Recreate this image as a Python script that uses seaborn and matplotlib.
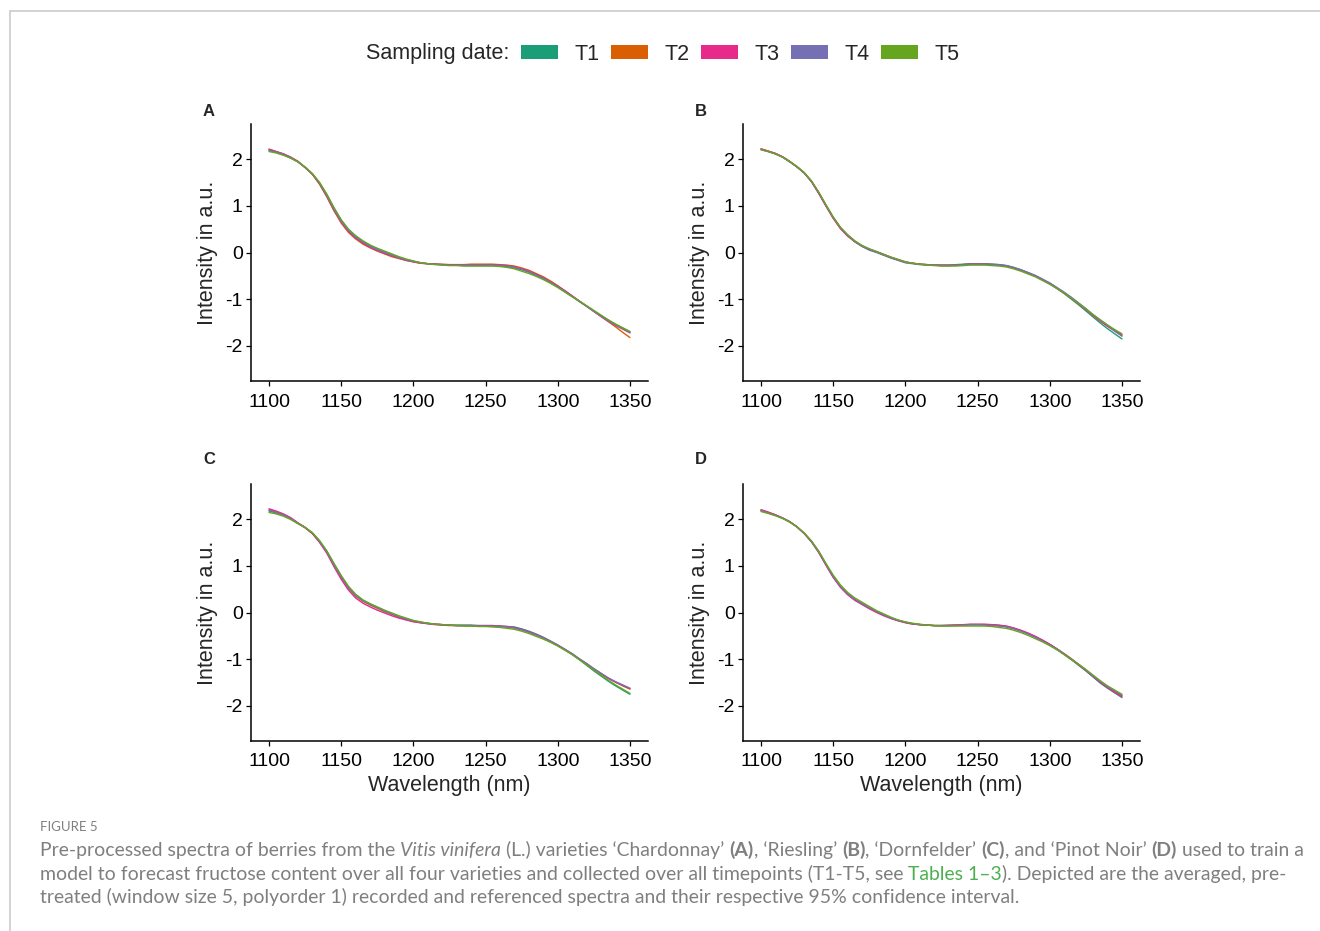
import pandas as pd
import matplotlib.pyplot as plt
import seaborn as sns
import numpy as np
from matplotlib.patches import Patch
from matplotlib.lines import Line2D

wavelength = list(range(1100, 1351, 5))
dates = ['T1', 'T2', 'T3', 'T4', 'T5']
colors = ['#1B9E77', '#D95F02', '#E7298A', '#7570B3', '#66A61E']

# panel A - Chardonnay
a_t1 = [2.18, 2.14, 2.09, 2.02, 1.94, 1.82, 1.68, 1.49, 1.24, 0.95,
        0.69, 0.49, 0.35, 0.24, 0.15, 0.08, 0.02, -0.04, -0.10, -0.15,
        -0.19, -0.22, -0.24, -0.25, -0.26, -0.27, -0.27, -0.28, -0.28, -0.28,
        -0.28, -0.28, -0.29, -0.30, -0.33, -0.37, -0.42, -0.49, -0.56, -0.65,
        -0.74, -0.84, -0.94, -1.05, -1.15, -1.25, -1.35, -1.45, -1.54, -1.62,
        -1.70]
a_t2 = [2.21, 2.16, 2.11, 2.04, 1.95, 1.82, 1.67, 1.46, 1.19, 0.89,
        0.63, 0.43, 0.29, 0.18, 0.10, 0.03, -0.03, -0.09, -0.13, -0.17,
        -0.20, -0.23, -0.24, -0.25, -0.25, -0.26, -0.26, -0.26, -0.25, -0.25,
        -0.25, -0.25, -0.26, -0.27, -0.29, -0.33, -0.38, -0.45, -0.52, -0.61,
        -0.71, -0.82, -0.93, -1.04, -1.15, -1.26, -1.37, -1.48, -1.59, -1.71,
        -1.82]
a_t3 = [2.21, 2.16, 2.11, 2.04, 1.95, 1.82, 1.68, 1.47, 1.21, 0.91,
        0.65, 0.45, 0.31, 0.20, 0.11, 0.04, -0.02, -0.07, -0.12, -0.17,
        -0.20, -0.23, -0.24, -0.25, -0.26, -0.26, -0.26, -0.26, -0.26, -0.26,
        -0.26, -0.26, -0.27, -0.28, -0.31, -0.35, -0.40, -0.47, -0.54, -0.63,
        -0.72, -0.82, -0.93, -1.04, -1.15, -1.26, -1.37, -1.47, -1.56, -1.64,
        -1.72]
a_t4 = [2.19, 2.15, 2.10, 2.03, 1.94, 1.82, 1.68, 1.48, 1.22, 0.93,
        0.67, 0.47, 0.33, 0.22, 0.13, 0.06, 0.00, -0.06, -0.11, -0.16,
        -0.19, -0.22, -0.24, -0.25, -0.26, -0.27, -0.27, -0.27, -0.27, -0.27,
        -0.27, -0.27, -0.28, -0.29, -0.32, -0.36, -0.41, -0.48, -0.55, -0.64,
        -0.73, -0.83, -0.94, -1.05, -1.15, -1.26, -1.36, -1.46, -1.55, -1.63,
        -1.71]
a_t5 = [2.16, 2.13, 2.08, 2.02, 1.94, 1.83, 1.69, 1.50, 1.25, 0.96,
        0.70, 0.50, 0.36, 0.25, 0.16, 0.09, 0.03, -0.03, -0.09, -0.14,
        -0.18, -0.22, -0.24, -0.26, -0.27, -0.28, -0.28, -0.29, -0.29, -0.29,
        -0.29, -0.29, -0.30, -0.32, -0.35, -0.40, -0.45, -0.51, -0.58, -0.66,
        -0.75, -0.85, -0.95, -1.04, -1.14, -1.24, -1.34, -1.44, -1.53, -1.61,
        -1.69]

# panel B - Riesling
b_t1 = [2.21, 2.16, 2.11, 2.04, 1.94, 1.83, 1.70, 1.52, 1.28, 1.01,
        0.75, 0.53, 0.37, 0.24, 0.14, 0.07, 0.01, -0.05, -0.11, -0.16,
        -0.21, -0.23, -0.25, -0.26, -0.27, -0.27, -0.27, -0.26, -0.25, -0.24,
        -0.24, -0.24, -0.25, -0.26, -0.28, -0.32, -0.37, -0.43, -0.50, -0.58,
        -0.67, -0.77, -0.88, -1.00, -1.12, -1.25, -1.38, -1.51, -1.63, -1.74,
        -1.85]
b_t2 = [2.21, 2.17, 2.12, 2.04, 1.94, 1.83, 1.70, 1.52, 1.27, 1.00,
        0.74, 0.52, 0.36, 0.23, 0.13, 0.06, 0.01, -0.05, -0.11, -0.16,
        -0.21, -0.23, -0.25, -0.26, -0.27, -0.28, -0.28, -0.27, -0.26, -0.25,
        -0.25, -0.25, -0.26, -0.27, -0.29, -0.33, -0.38, -0.44, -0.50, -0.58,
        -0.66, -0.76, -0.86, -0.97, -1.09, -1.21, -1.34, -1.46, -1.57, -1.67,
        -1.76]
b_t3 = [2.22, 2.17, 2.12, 2.05, 1.95, 1.83, 1.70, 1.51, 1.26, 0.99,
        0.73, 0.51, 0.35, 0.23, 0.14, 0.07, 0.02, -0.04, -0.10, -0.15,
        -0.20, -0.23, -0.25, -0.26, -0.27, -0.27, -0.27, -0.27, -0.26, -0.25,
        -0.25, -0.25, -0.26, -0.27, -0.29, -0.33, -0.38, -0.44, -0.51, -0.59,
        -0.67, -0.77, -0.87, -0.98, -1.10, -1.22, -1.35, -1.47, -1.58, -1.68,
        -1.78]
b_t4 = [2.20, 2.16, 2.11, 2.04, 1.94, 1.83, 1.70, 1.52, 1.28, 1.01,
        0.75, 0.53, 0.37, 0.23, 0.13, 0.05, 0.00, -0.06, -0.12, -0.17,
        -0.22, -0.24, -0.26, -0.27, -0.27, -0.28, -0.28, -0.27, -0.26, -0.25,
        -0.25, -0.25, -0.25, -0.26, -0.28, -0.32, -0.37, -0.43, -0.49, -0.57,
        -0.65, -0.75, -0.85, -0.96, -1.08, -1.20, -1.33, -1.45, -1.56, -1.68,
        -1.79]
b_t5 = [2.20, 2.16, 2.11, 2.04, 1.94, 1.84, 1.71, 1.53, 1.29, 1.02,
        0.76, 0.54, 0.38, 0.25, 0.15, 0.08, 0.02, -0.04, -0.10, -0.15,
        -0.20, -0.23, -0.25, -0.27, -0.28, -0.29, -0.29, -0.29, -0.28, -0.27,
        -0.27, -0.27, -0.28, -0.29, -0.31, -0.35, -0.40, -0.46, -0.52, -0.60,
        -0.68, -0.77, -0.87, -0.98, -1.09, -1.21, -1.33, -1.44, -1.55, -1.65,
        -1.74]

# panel C - Dornfelder
c_t1 = [2.17, 2.13, 2.08, 2.00, 1.91, 1.82, 1.70, 1.53, 1.31, 1.04,
        0.78, 0.55, 0.38, 0.26, 0.18, 0.11, 0.04, -0.02, -0.08, -0.13,
        -0.18, -0.21, -0.23, -0.25, -0.26, -0.27, -0.27, -0.27, -0.27, -0.28,
        -0.28, -0.28, -0.29, -0.30, -0.31, -0.35, -0.40, -0.46, -0.53, -0.61,
        -0.70, -0.80, -0.90, -1.01, -1.13, -1.25, -1.36, -1.47, -1.57, -1.66,
        -1.75]
c_t2 = [2.20, 2.15, 2.09, 2.01, 1.91, 1.81, 1.69, 1.51, 1.29, 1.01,
        0.75, 0.52, 0.35, 0.24, 0.16, 0.09, 0.02, -0.04, -0.10, -0.15,
        -0.19, -0.22, -0.24, -0.25, -0.26, -0.27, -0.28, -0.28, -0.28, -0.29,
        -0.29, -0.29, -0.30, -0.31, -0.33, -0.37, -0.42, -0.48, -0.54, -0.62,
        -0.70, -0.79, -0.89, -1.00, -1.10, -1.21, -1.31, -1.41, -1.49, -1.57,
        -1.64]
c_t3 = [2.22, 2.17, 2.11, 2.03, 1.92, 1.82, 1.69, 1.50, 1.27, 0.98,
        0.71, 0.48, 0.31, 0.20, 0.12, 0.05, -0.01, -0.07, -0.12, -0.16,
        -0.20, -0.22, -0.24, -0.26, -0.27, -0.28, -0.28, -0.28, -0.28, -0.28,
        -0.28, -0.28, -0.29, -0.30, -0.32, -0.36, -0.41, -0.47, -0.54, -0.62,
        -0.70, -0.79, -0.89, -1.00, -1.10, -1.21, -1.31, -1.41, -1.49, -1.56,
        -1.63]
c_t4 = [2.19, 2.14, 2.09, 2.01, 1.91, 1.82, 1.70, 1.52, 1.30, 1.02,
        0.76, 0.53, 0.36, 0.25, 0.17, 0.10, 0.03, -0.03, -0.09, -0.14,
        -0.18, -0.21, -0.23, -0.25, -0.26, -0.27, -0.28, -0.28, -0.28, -0.29,
        -0.29, -0.29, -0.30, -0.31, -0.33, -0.37, -0.42, -0.48, -0.54, -0.62,
        -0.70, -0.79, -0.88, -0.99, -1.09, -1.20, -1.30, -1.40, -1.48, -1.55,
        -1.62]
c_t5 = [2.14, 2.11, 2.06, 1.99, 1.90, 1.82, 1.71, 1.54, 1.32, 1.05,
        0.79, 0.56, 0.39, 0.27, 0.19, 0.12, 0.05, -0.01, -0.07, -0.12,
        -0.17, -0.20, -0.23, -0.25, -0.26, -0.27, -0.28, -0.29, -0.29, -0.30,
        -0.30, -0.31, -0.32, -0.34, -0.36, -0.40, -0.45, -0.51, -0.57, -0.64,
        -0.72, -0.81, -0.90, -1.01, -1.12, -1.23, -1.34, -1.45, -1.55, -1.64,
        -1.73]

# panel D - Pinot Noir
d_t1 = [2.18, 2.13, 2.08, 2.02, 1.94, 1.83, 1.69, 1.51, 1.29, 1.02,
        0.76, 0.55, 0.39, 0.27, 0.18, 0.09, 0.02, -0.05, -0.12, -0.17,
        -0.21, -0.24, -0.26, -0.27, -0.28, -0.28, -0.28, -0.27, -0.27, -0.26,
        -0.26, -0.26, -0.27, -0.28, -0.30, -0.34, -0.39, -0.45, -0.52, -0.60,
        -0.69, -0.79, -0.90, -1.01, -1.13, -1.25, -1.38, -1.51, -1.62, -1.72,
        -1.82]
d_t2 = [2.19, 2.14, 2.09, 2.02, 1.94, 1.83, 1.69, 1.52, 1.30, 1.03,
        0.77, 0.56, 0.40, 0.28, 0.19, 0.10, 0.02, -0.05, -0.12, -0.17,
        -0.21, -0.24, -0.26, -0.27, -0.28, -0.28, -0.28, -0.27, -0.27, -0.26,
        -0.26, -0.26, -0.27, -0.28, -0.30, -0.34, -0.39, -0.45, -0.52, -0.60,
        -0.68, -0.78, -0.88, -0.99, -1.11, -1.23, -1.36, -1.48, -1.59, -1.69,
        -1.78]
d_t3 = [2.20, 2.15, 2.09, 2.02, 1.94, 1.83, 1.69, 1.51, 1.28, 1.01,
        0.75, 0.54, 0.38, 0.26, 0.17, 0.08, 0.00, -0.07, -0.13, -0.18,
        -0.22, -0.25, -0.26, -0.27, -0.28, -0.28, -0.27, -0.27, -0.26, -0.25,
        -0.25, -0.25, -0.26, -0.27, -0.29, -0.33, -0.38, -0.44, -0.51, -0.59,
        -0.68, -0.78, -0.89, -1.00, -1.12, -1.24, -1.37, -1.50, -1.61, -1.71,
        -1.80]
d_t4 = [2.18, 2.13, 2.08, 2.02, 1.94, 1.83, 1.69, 1.52, 1.30, 1.03,
        0.77, 0.56, 0.40, 0.28, 0.19, 0.10, 0.02, -0.05, -0.12, -0.17,
        -0.21, -0.24, -0.26, -0.27, -0.28, -0.28, -0.28, -0.28, -0.27, -0.26,
        -0.26, -0.27, -0.28, -0.29, -0.31, -0.35, -0.40, -0.46, -0.53, -0.61,
        -0.69, -0.78, -0.89, -1.00, -1.11, -1.23, -1.36, -1.48, -1.59, -1.68,
        -1.77]
d_t5 = [2.16, 2.12, 2.07, 2.01, 1.93, 1.83, 1.70, 1.53, 1.31, 1.05,
        0.80, 0.59, 0.43, 0.31, 0.22, 0.13, 0.04, -0.03, -0.10, -0.16,
        -0.20, -0.23, -0.25, -0.27, -0.28, -0.29, -0.29, -0.29, -0.29, -0.29,
        -0.29, -0.29, -0.30, -0.32, -0.34, -0.38, -0.43, -0.49, -0.56, -0.63,
        -0.71, -0.80, -0.90, -1.01, -1.11, -1.22, -1.34, -1.46, -1.57, -1.66,
        -1.75]

panels = {'A': [a_t1, a_t2, a_t3, a_t4, a_t5],
          'B': [b_t1, b_t2, b_t3, b_t4, b_t5],
          'C': [c_t1, c_t2, c_t3, c_t4, c_t5],
          'D': [d_t1, d_t2, d_t3, d_t4, d_t5]}

sns.set_theme(style='ticks')
plt.rcParams['font.family'] = ['Liberation Sans', 'DejaVu Sans']
plt.rcParams['axes.unicode_minus'] = False

fig = plt.figure(figsize=(13.2, 9.31), dpi=100)
W, H = 1320, 931

# left px, top px of each panel's axes, and y of the panel letter
boxes = {'A': (251, 124, 111), 'B': (743, 124, 111),
         'C': (251, 484, 460), 'D': (743, 484, 460)}
aw, ah = 397, 257

for lab, series in panels.items():
    l, t, ly = boxes[lab]
    ax = fig.add_axes([l / W, 1 - (t + ah) / H, aw / W, ah / H])
    df = pd.DataFrame({'wavelength': wavelength * 5,
                       'intensity': sum(series, []),
                       'date': np.repeat(dates, len(wavelength))})
    sns.lineplot(data=df, x='wavelength', y='intensity', hue='date',
                 palette=colors, ax=ax, legend=False, linewidth=1.0)
    ax.set_xlim(1087.5, 1362.5)
    ax.set_ylim(-2.75, 2.75)
    ax.set_xticks([1100, 1150, 1200, 1250, 1300, 1350])
    ax.set_yticks([-2, -1, 0, 1, 2])
    ax.tick_params(labelsize=14, length=3.5, width=0.9, color='black',
                   labelcolor='black')
    ax.tick_params(axis='x', pad=5.5)
    ax.tick_params(axis='y', pad=2.5)
    for s in ['left', 'bottom']:
        ax.spines[s].set_linewidth(1.1)
        ax.spines[s].set_color('black')
    sns.despine(ax=ax)
    ax.set_ylabel('Intensity in a.u.', fontsize=15.5, labelpad=5)
    if lab in 'CD':
        ax.set_xlabel('Wavelength (nm)', fontsize=15.5, labelpad=3)
    else:
        ax.set_xlabel('')
    fig.text((l - 48) / W, 1 - ly / H, lab, fontsize=12, fontweight='bold',
             ha='left', va='center')

# legend across the top
fig.text(509 / W, 1 - 54 / H, 'Sampling date:', fontsize=15.5, ha='right', va='center')
handles = [Patch(facecolor=c, edgecolor='none') for c in colors]
fig.legend(handles, dates, loc='center left', bbox_to_anchor=(521 / W, 1 - 54 / H),
           ncol=5, frameon=False, fontsize=15.5, handlelength=1.72, handleheight=0.6,
           handletextpad=0.75, columnspacing=0.55, borderpad=0, borderaxespad=0)

# page frame
fig.add_artist(Line2D([10 / W, 1], [1 - 11 / H, 1 - 11 / H], transform=fig.transFigure,
                      color='#c8c8c8', lw=1.1))
fig.add_artist(Line2D([10 / W, 10 / W], [0, 1 - 11 / H], transform=fig.transFigure,
                      color='#c8c8c8', lw=1.1))

# caption
grey = '#7f7f7f'
green = '#4caf50'
cap_font = ['Lato', 'DejaVu Sans']
fig.text(40 / W, 1 - 831 / H, 'FIGURE 5', fontsize=9.5, color=grey, family=cap_font,
         va='baseline', ha='left')

line1 = [('Pre-processed spectra of berries from the ', {}),
         ('Vitis vinifera', {'style': 'italic'}),
         (' (L.) varieties \u2018Chardonnay\u2019 ', {}),
         ('(A)', {'weight': 'bold'}),
         (', \u2018Riesling\u2019 ', {}),
         ('(B)', {'weight': 'bold'}),
         (', \u2018Dornfelder\u2019 ', {}),
         ('(C)', {'weight': 'bold'}),
         (', and \u2018Pinot Noir\u2019 ', {}),
         ('(D)', {'weight': 'bold'}),
         (' used to train a', {})]
line2 = [('model to forecast fructose content over all four varieties and collected over all timepoints (T1-T5, see ', {}),
         ('Tables 1\u20133', {'color': green}),
         ('). Depicted are the averaged, pre-', {})]
line3 = [('treated (window size 5, polyorder 1) recorded and referenced spectra and their respective 95% confidence interval.', {})]

renderer = fig.canvas.get_renderer()


def draw_line(segs, y_px, size):
    x = 40
    out = []
    for txt, kw in segs:
        opts = dict(fontsize=size, color=grey, family=cap_font, va='baseline', ha='left')
        opts.update(kw)
        t = fig.text(x / W, 1 - y_px / H, txt, **opts)
        bb = t.get_window_extent(renderer=renderer)
        x += bb.width
        out.append(t)
    return out, x - 40


tmp, wid = draw_line(line1, 856, 12)
for t in tmp:
    t.remove()
size = 12 * 1261 / wid
draw_line(line1, 856, size)
draw_line(line2, 880, size)
draw_line(line3, 903, size)

fig.savefig('out.png', dpi=100)
